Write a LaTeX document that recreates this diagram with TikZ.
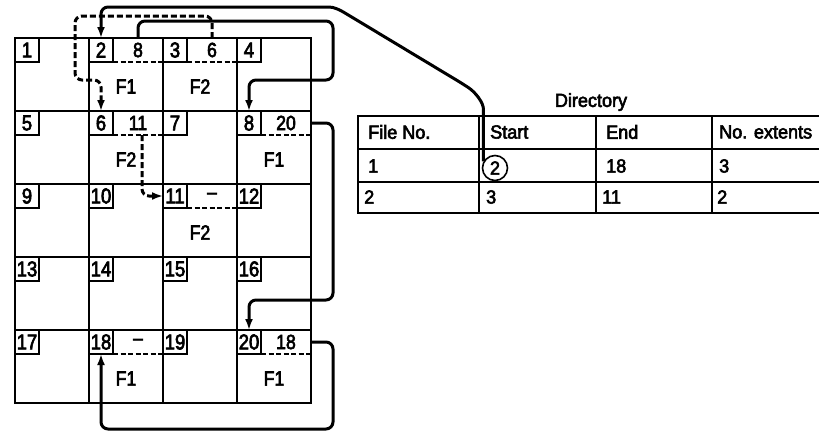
\documentclass[tikz,border=0pt]{standalone}
\usepackage{fontspec}
\setmainfont{Liberation Sans}[FakeStretch=0.86,FakeBold=3]
\newfontfamily\tabfont{Liberation Sans}[FakeStretch=0.95,FakeBold=3]
\usetikzlibrary{arrows.meta,calc}
\begin{document}
\begin{tikzpicture}[x=1pt,y=-1pt,
  cell/.style={minimum width=74pt,minimum height=73pt,inner sep=0pt,outer sep=0pt},
  gridline/.style={line width=2pt},
  numbox/.style={draw,line width=1.8pt,minimum width=24pt,minimum height=24pt,inner sep=0pt,outer sep=0pt,anchor=north west,font=\fontsize{21.5}{21.5}\selectfont},
  ptr/.style={minimum width=50pt,minimum height=24pt,inner sep=0pt,outer sep=0pt,anchor=north west,font=\fontsize{20.5}{20.5}\selectfont},
  flabel/.style={font=\fontsize{20.5}{20.5}\selectfont,inner sep=0pt},
  ptrline/.style={line width=1.3pt,dash pattern=on 5pt off 2.5pt},
  arr/.style={line width=3pt,-{Latex[length=11pt,width=8pt]},rounded corners=7pt},
  darr/.style={arr,dash pattern=on 6pt off 3pt},
  tline/.style={line width=2pt},
  ttext/.style={font=\tabfont\fontsize{19}{19}\selectfont,anchor=west,inner sep=0pt},
]
\useasboundingbox (0,0) rectangle (819,432);

% cells (named regions) and the grid drawn once
\foreach \r in {0,...,4} {
  \foreach \c in {0,...,3} {
    \pgfmathtruncatemacro\n{4*\r+\c+1}
    \node[cell] (c\n) at ({15+74*(\c+0.5)},{38+73*(\r+0.5)}) {};
  }
}
\draw[gridline] (c1.north west) rectangle (c20.south east);
\foreach \c in {1,2,3} \draw[gridline] (c\c.north east) -- (c\the\numexpr\c+16\relax.south east);
\foreach \r in {1,5,9,13} \draw[gridline] (c\r.south west) -- (c\the\numexpr\r+3\relax.south east);

\foreach \n in {1,...,20} {
  \node[numbox] (n\n) at (c\n.north west) {\n};
}

% pointer fields
\foreach \i/\t in {2/8,3/6,6/11,8/20,11/\textendash,18/\textendash,20/18} {
  \node[ptr] (p\i) at (n\i.north east) {\t};
  \draw[ptrline] (p\i.south west) -- (p\i.south east);
}

% file labels
\foreach \i/\t in {2/F1,3/F2,6/F2,8/F1,11/F2,18/F1,20/F1} {
  \node[flabel] (f\i) at ($(c\i.center |- p\i.south)!0.5!(c\i.south)$) {\t};
}

% directory table
\node[font=\tabfont\fontsize{19}{19}\selectfont,inner sep=0pt] (dir) at (591,102) {Directory};
\draw[tline] (819,116) -| (358,213) -- (819,213);
\draw[tline] (358,149) -- (819,149);
\draw[tline] (358,182) -- (819,182);
\draw[tline] (479,116) -- (479,213);
\draw[tline] (596,116) -- (596,213);
\draw[tline] (712,116) -- (712,213);

\node[ttext] (h1) at (368,132) {File No.};
\node[ttext] (h2) at (490,132) {Start};
\node[ttext] (h3) at (606,132) {End};
\node[ttext] (h4) at (719,132) {No. extents};

\node[ttext] (r11) at (368,166) {1};
\node[draw,circle,line width=1.6pt,minimum size=25pt,inner sep=0pt,font=\tabfont\fontsize{19}{19}\selectfont] (circ) at (495,168) {2};
\node[ttext] (r13) at (606,166) {18};
\node[ttext] (r14) at (719,166) {3};

\node[ttext] (r21) at (364,197) {2};
\node[ttext] (r22) at (486,197) {3};
\node[ttext] (r23) at (602,197) {11};
\node[ttext] (r24) at (717,197) {2};

% connectors
\draw[darr] (p3.north) |- (75,16) -- (75,80) -| (n6.north);
\draw[darr] ([xshift=4pt]p6.south) |- (n11.west);
\draw[arr] (circ.150) -- ++(0,-45) .. controls +(0,-14) and +(12,8) .. (463,84) -- (350,16) .. controls (340,10) and (334,7) .. (322,7) -| (n2.north);
\draw[arr] (p2.north) |- (333,21) -- (333,80) -| (n8.north);
\draw[arr] (p8.east) -| (333,300) -| (n20.north);
\draw[arr] (p20.east) -| (333,429) -| (n18.south);
\end{tikzpicture}
\end{document}
